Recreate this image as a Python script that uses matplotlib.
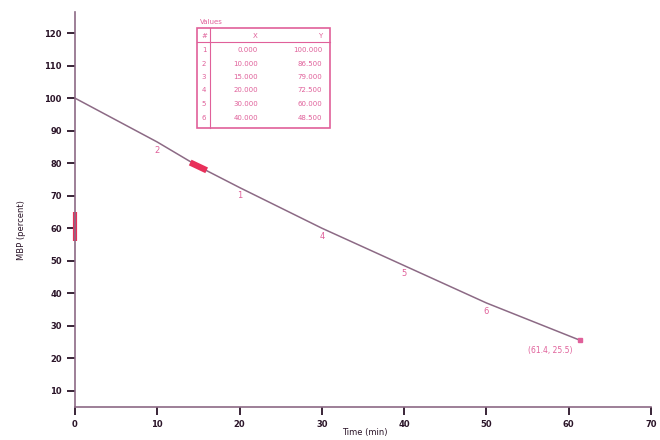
import matplotlib
matplotlib.use("Agg")
import matplotlib.pyplot as plt
from matplotlib.patches import Rectangle

# curve
curve_x = [0, 10, 15, 20, 30, 40, 50, 61.4]
curve_y = [100, 86.5, 79.0, 72.5, 60.0, 48.5, 37.0, 25.5]

# numbered points along the curve
pt_labels = ['2', '1', '4', '5', '6']
pt_x = [10, 20, 30, 40, 50]
pt_y = [86.5, 72.5, 60.0, 48.5, 37.0]

# table in the box
tab_title = 'Values'
tab_cols = ['#', 'X', 'Y']
tab_id = ['1', '2', '3', '4', '5', '6']
tab_x = ['0.000', '10.000', '15.000', '20.000', '30.000', '40.000']
tab_y = ['100.000', '86.500', '79.000', '72.500', '60.000', '48.500']

end_label = '(61.4, 25.5)'
xticks = [0, 10, 20, 30, 40, 50, 60, 70]
yticks = [10, 20, 30, 40, 50, 60, 70, 80, 90, 100, 110, 120]

axis_col = '#2a1428'
line_col = '#8c6a85'
pink = '#e0609a'
red = '#e8305a'

fig = plt.figure(figsize=(6.6, 4.4), dpi=100)
ax = fig.add_axes([75/660, 1-407/440, (651-75)/660, (407-12)/440])

ax.plot(curve_x, curve_y, color=line_col, lw=1.1)

# point labels just below the line
for lab, x, y in zip(pt_labels, pt_x, pt_y):
    ax.text(x, y - 2.5, lab, color=pink, fontsize=6, ha='center', va='center')

# red marker near x=15 and red mark on the y axis
ax.plot([14.0, 16.0], [80.2, 77.8], color=red, lw=4.5, solid_capstyle='butt')
ax.plot([0, 0], [56, 65], color=red, lw=3, clip_on=False, solid_capstyle='butt')

# end point and its label
ax.plot([curve_x[-1]], [curve_y[-1]], marker='s', ms=2.5, color=pink, clip_on=False)
ax.text(curve_x[-1] - 1, curve_y[-1] - 3, end_label, color=pink, fontsize=5.5, ha='right', va='center')

ax.set_xlim(0, 70)
ax.set_ylim(5, 126.5)
ax.set_xticks(xticks)
ax.set_yticks(yticks)
ax.tick_params(axis='both', direction='out', length=6, width=1.3, colors=axis_col, labelsize=6)
for lab in ax.get_xticklabels() + ax.get_yticklabels():
    lab.set_fontweight('bold')
ax.spines['top'].set_visible(False)
ax.spines['right'].set_visible(False)
for s in ['left', 'bottom']:
    ax.spines[s].set_color(line_col)
    ax.spines[s].set_linewidth(1.2)

fig.text(22/660, 1-230/440, 'MBP (percent)', rotation=90, fontsize=6, color=axis_col, ha='center', va='center')
fig.text(365/660, 1-432/440, 'Time (min)', fontsize=6, color=axis_col, ha='center', va='center')

# table box
def fx(px):
    return px / 660

def fy(py):
    return 1 - py / 440

fig.patches.append(Rectangle((fx(197), fy(128)), fx(330) - fx(197), fy(28) - fy(128),
                             transform=fig.transFigure, fill=False, ec=pink, lw=1.2))
fig.lines.append(plt.Line2D([fx(210), fx(210)], [fy(128), fy(28)], transform=fig.transFigure, color=pink, lw=0.8))
fig.lines.append(plt.Line2D([fx(197), fx(330)], [fy(42), fy(42)], transform=fig.transFigure, color=pink, lw=0.8))
fig.text(fx(200), fy(22), tab_title, fontsize=5, color=pink, ha='left', va='center')
fig.text(fx(204), fy(36), tab_cols[0], fontsize=5, color=pink, ha='center', va='center')
fig.text(fx(258), fy(36), tab_cols[1], fontsize=5, color=pink, ha='right', va='center')
fig.text(fx(322), fy(36), tab_cols[2], fontsize=5, color=pink, ha='right', va='center')
for i in range(len(tab_id)):
    yy = fy(50 + i * 13.5)
    fig.text(fx(204), yy, tab_id[i], fontsize=5, color=pink, ha='center', va='center')
    fig.text(fx(258), yy, tab_x[i], fontsize=5, color=pink, ha='right', va='center')
    fig.text(fx(322), yy, tab_y[i], fontsize=5, color=pink, ha='right', va='center')

fig.savefig('out.png', dpi=100)
